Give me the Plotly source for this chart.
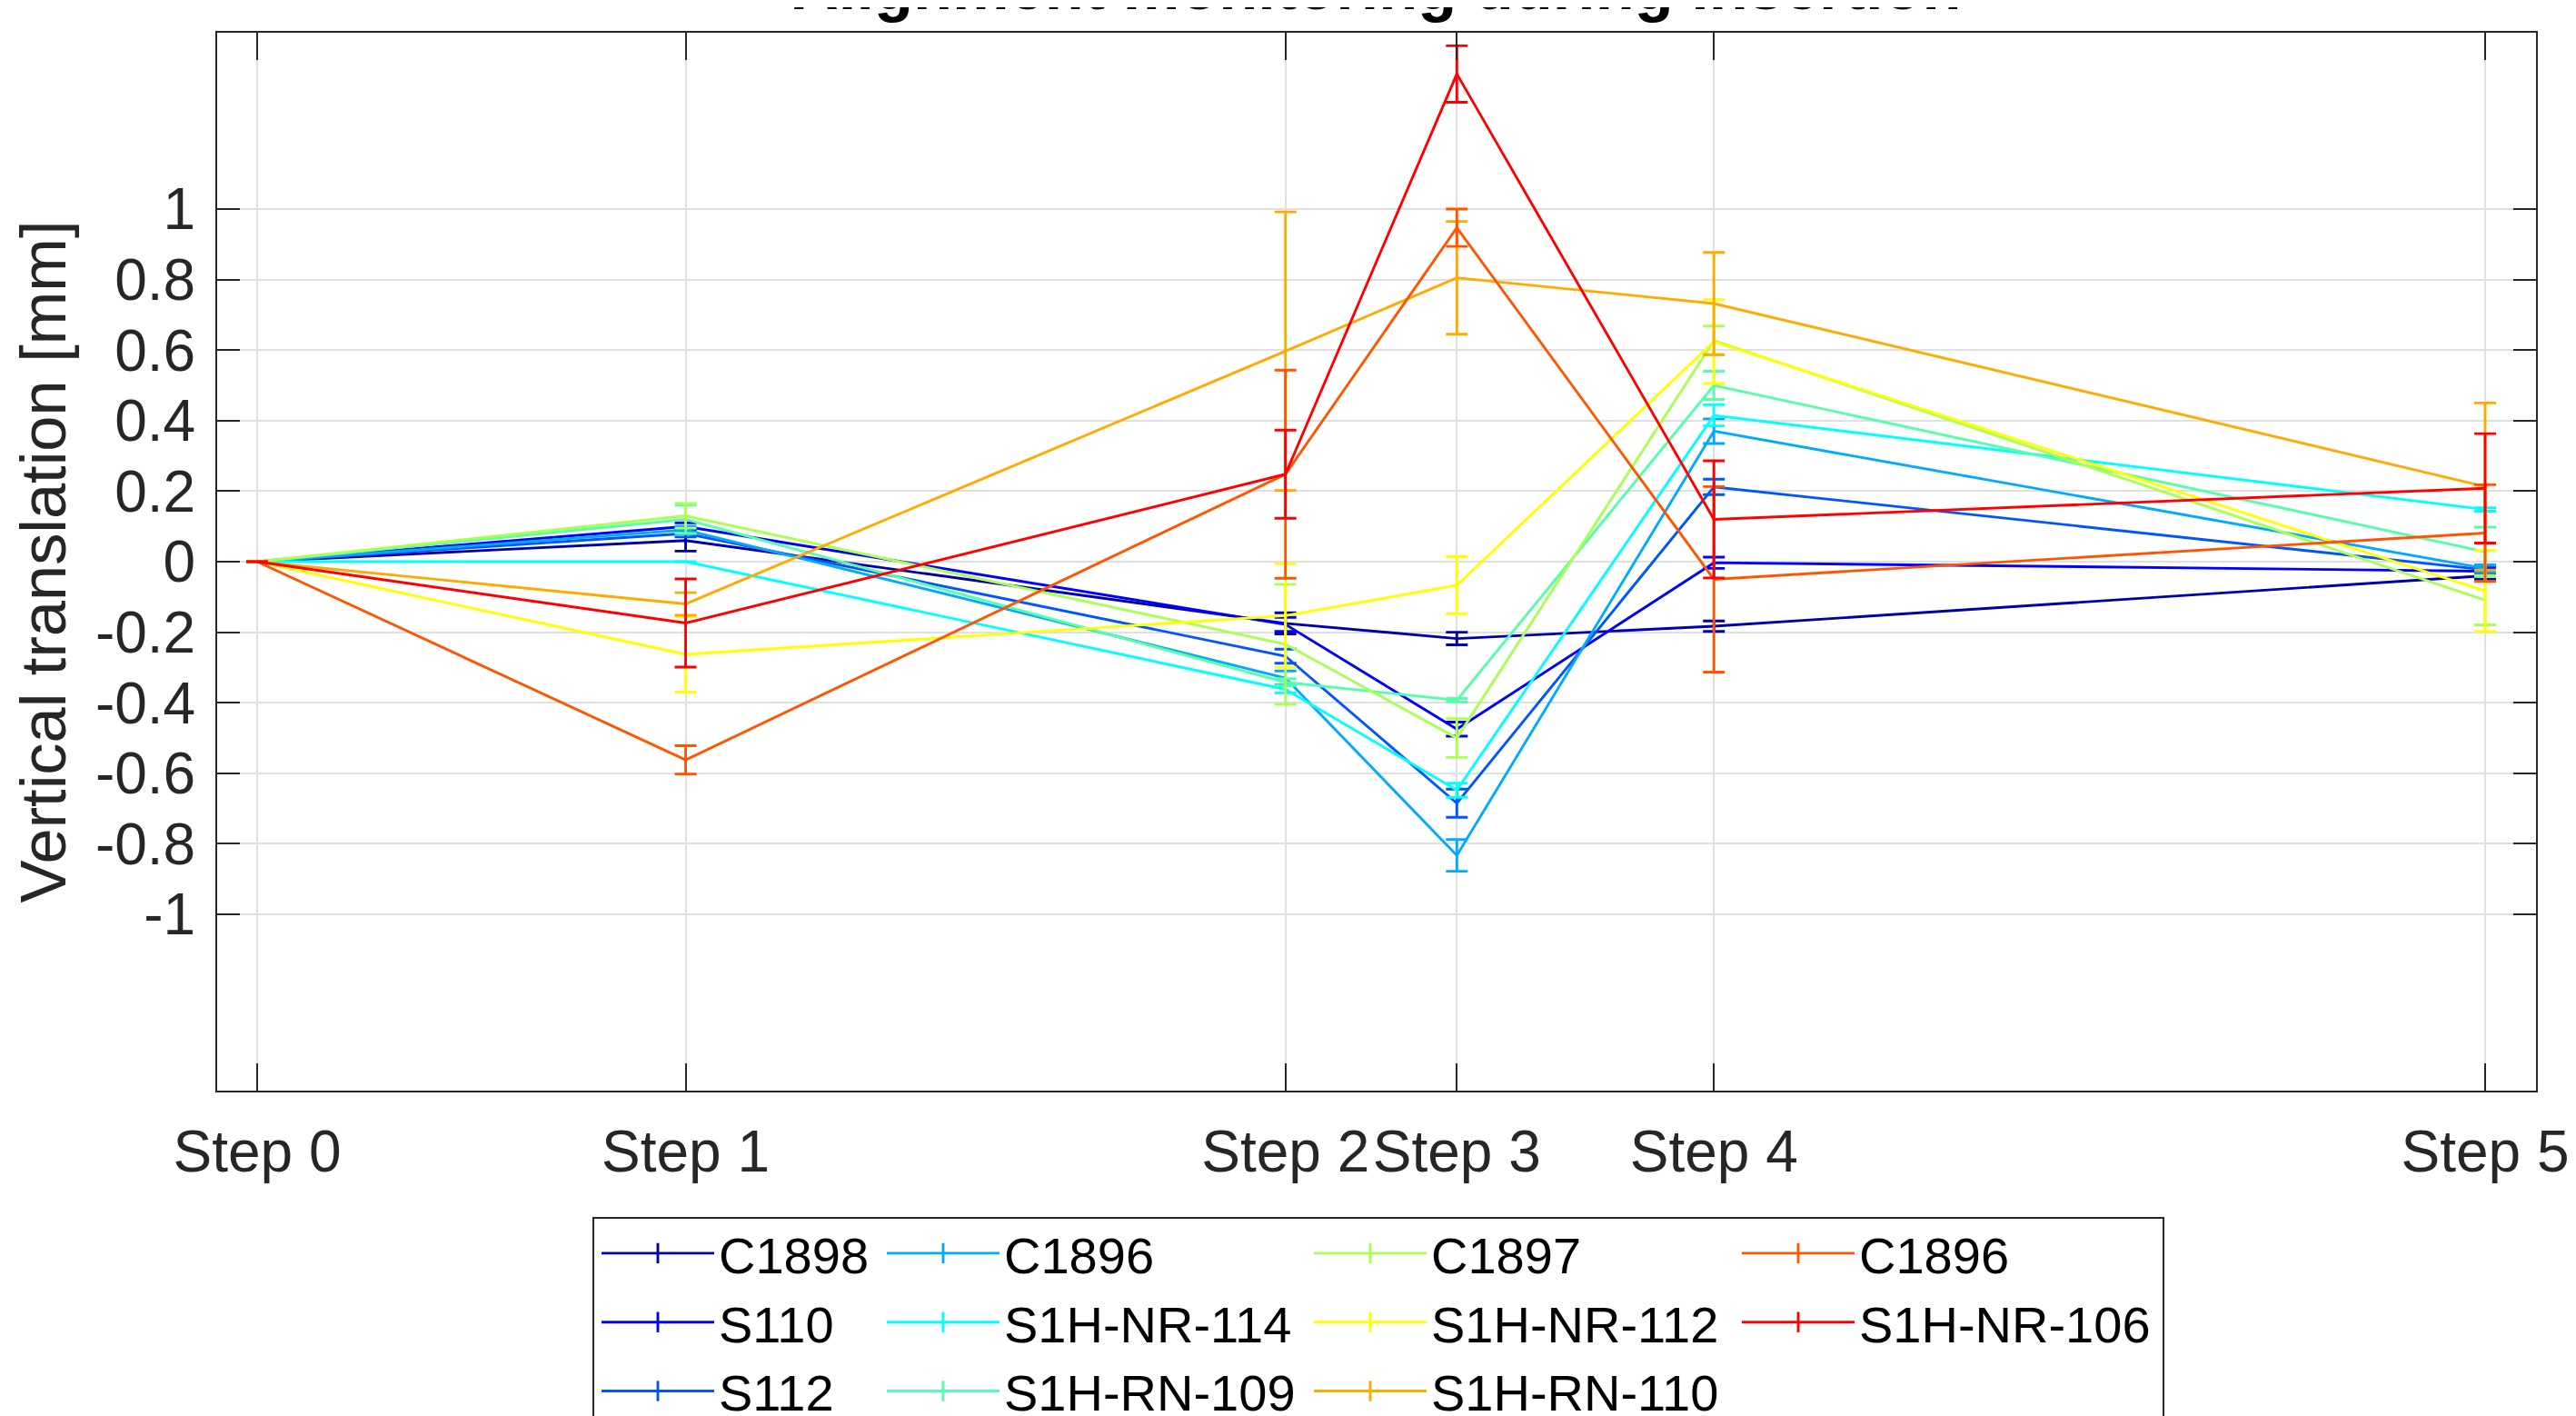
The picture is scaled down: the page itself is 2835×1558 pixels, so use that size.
import plotly.graph_objects as go

# ---------------- data ----------------
step_x = [0, 5, 12, 14, 17, 26]
step_labels = ["Step 0", "Step 1", "Step 2", "Step 3", "Step 4", "Step 5"]

names = ["C1898", "S110", "S112", "C1896", "S1H-NR-114", "S1H-RN-109",
         "C1897", "S1H-NR-112", "S1H-RN-110", "C1896", "S1H-NR-106"]

y_C1898 = [0, 0.06, -0.175, -0.218, -0.183, -0.04]
e_C1898 = [None, 0.03, 0.03, 0.018, 0.015, 0.01]
y_S110 = [0, 0.10, -0.178, -0.475, -0.003, -0.027]
e_S110 = [None, 0.01, 0.02, 0.02, 0.016, 0.01]
y_S112 = [0, 0.08, -0.268, -0.685, 0.212, -0.023]
e_S112 = [None, 0.01, 0.02, 0.04, 0.022, 0.01]
y_C1896a = [0, 0.09, -0.33, -0.833, 0.37, -0.019]
e_C1896a = [None, 0.01, 0.02, 0.045, 0.035, 0.01]
y_NR114 = [0, 0.0, -0.362, -0.648, 0.415, 0.148]
e_NR114 = [None, None, 0.01, 0.02, 0.03, 0.005]
y_RN109 = [0, 0.12, -0.342, -0.393, 0.50, 0.028]
e_RN109 = [None, 0.04, 0.01, 0.005, 0.04, 0.07]
y_C1897 = [0, 0.13, -0.234, -0.50, 0.627, -0.109]
e_C1897 = [None, 0.035, 0.17, 0.055, 0.041, 0.07]
y_NR112 = [0, -0.263, -0.153, -0.067, 0.624, -0.083]
e_NR112 = [None, 0.107, 0.147, 0.081, 0.119, 0.115]
y_RN110 = [0, -0.12, 0.597, 0.805, 0.732, 0.213]
e_RN110 = [None, 0.032, 0.395, 0.16, 0.145, 0.237]
y_C1896b = [0, -0.562, 0.248, 0.947, -0.05, 0.081]
e_C1896b = [None, 0.04, 0.295, 0.053, 0.263, 0.137]
y_NR106 = [0, -0.174, 0.248, 1.383, 0.12, 0.208]
e_NR106 = [None, 0.125, 0.125, 0.08, 0.166, 0.155]

series_y = [y_C1898, y_S110, y_S112, y_C1896a, y_NR114, y_RN109,
            y_C1897, y_NR112, y_RN110, y_C1896b, y_NR106]
series_e = [e_C1898, e_S110, e_S112, e_C1896a, e_NR114, e_RN109,
            e_C1897, e_NR112, e_RN110, e_C1896b, e_NR106]

y_ticks = [-1, -0.8, -0.6, -0.4, -0.2, 0, 0.2, 0.4, 0.6, 0.8, 1]
y_ticktext = ["-1", "-0.8", "-0.6", "-0.4", "-0.2", "0", "0.2", "0.4", "0.6", "0.8", "1"]

# jet(11) colormap
colors = ["rgb(0,0,170)", "rgb(0,0,255)", "rgb(0,85,255)", "rgb(0,170,255)",
          "rgb(0,255,255)", "rgb(85,255,170)", "rgb(170,255,85)", "rgb(255,255,0)",
          "rgb(255,170,0)", "rgb(255,85,0)", "rgb(255,0,0)"]

# ---------------- layout constants ----------------
OFF = 8  # page body margin
W, H = 2835 - OFF, 1558 - OFF
L, R, T, B = 239 - OFF, 2791 - OFF, 36 - OFF, 1200 - OFF
PW, PH = R - L, B - T
FONT = "Liberation Sans, Arial, Helvetica, sans-serif"
AX = "#262626"
LW = 2.9


def px_x(px):
    return (px - OFF - L) / PW


def px_y(py):
    return (B - (py - OFF)) / PH


fig = go.Figure()

for i in range(len(names)):
    fig.add_trace(go.Scatter(
        x=step_x, y=series_y[i], mode="lines",
        line=dict(color=colors[i], width=LW),
        error_y=dict(type="data", array=series_e[i], visible=True,
                     color=colors[i], thickness=LW, width=12),
        name=names[i], legendgroup=f"g{i}", showlegend=False,
    ))

# legend entries: column-major, 3 rows, 4 columns
legend_ids = ["legend", "legend2", "legend3", "legend4"]
col_left_px = [662, 976, 1446, 1917]
for i in range(len(names)):
    col = i // 3
    fig.add_trace(go.Scatter(
        x=[None], y=[None], mode="lines+markers",
        line=dict(color=colors[i], width=LW),
        marker=dict(symbol="line-ns-open", size=16, color=colors[i],
                    line=dict(color=colors[i], width=LW)),
        name=names[i], legendgroup=f"g{i}", showlegend=True,
        legend=legend_ids[col],
    ))

legend_common = dict(
    orientation="v", xanchor="left", yanchor="top",
    font=dict(family=FONT, size=56, color="#000000"),
    bgcolor="rgba(0,0,0,0)", borderwidth=0, itemwidth=124,
    tracegroupgap=0, itemclick=False, itemdoubleclick=False,
)
layout_legends = {}
for c, lid in enumerate(legend_ids):
    layout_legends[lid] = dict(legend_common, x=px_x(col_left_px[c] - 5), y=px_y(1336))

fig.update_layout(
    width=W, height=H,
    margin=dict(l=L, r=W - R, t=T, b=H - B, pad=0, autoexpand=False),
    paper_bgcolor="white", plot_bgcolor="white",
    font=dict(family=FONT, color=AX),
    showlegend=True,
    **layout_legends,
    xaxis=dict(
        range=[-0.467, 26.594], tickmode="array", tickvals=step_x, ticktext=step_labels,
        ticks="inside", ticklen=30, tickwidth=2, tickcolor=AX, automargin=False,
        showline=True, linecolor=AX, linewidth=2, mirror="ticks",
        showgrid=True, gridcolor="#e0e0e0", gridwidth=2, zeroline=False,
        tickfont=dict(family=FONT, size=64, color=AX), ticklabelstandoff=10,
    ),
    yaxis=dict(
        range=[-1.5, 1.5], tickmode="array", tickvals=y_ticks, ticktext=y_ticktext,
        ticks="inside", ticklen=25, tickwidth=2, tickcolor=AX, automargin=False,
        showline=True, linecolor=AX, linewidth=2, mirror="ticks",
        showgrid=True, gridcolor="#e0e0e0", gridwidth=2, zeroline=False,
        tickfont=dict(family=FONT, size=64, color=AX), ticklabelstandoff=9,
        title=dict(text="Vertical translation [mm]", standoff=9,
                   font=dict(family=FONT, size=70.4, color=AX)),
    ),
    shapes=[dict(type="rect", xref="paper", yref="paper",
                 x0=px_x(653), x1=px_x(2381), y0=px_y(1340), y1=px_y(1620),
                 line=dict(color=AX, width=2), fillcolor="rgba(0,0,0,0)", layer="above")],
    annotations=[dict(text="<b>Alignment monitoring during insertion</b>",
                      xref="paper", yref="paper", x=0.5, y=px_y(27), xanchor="center",
                      yanchor="bottom", showarrow=False,
                      font=dict(family=FONT, size=70.4, color="#000000"))],
)

fig.write_html("out.html")
